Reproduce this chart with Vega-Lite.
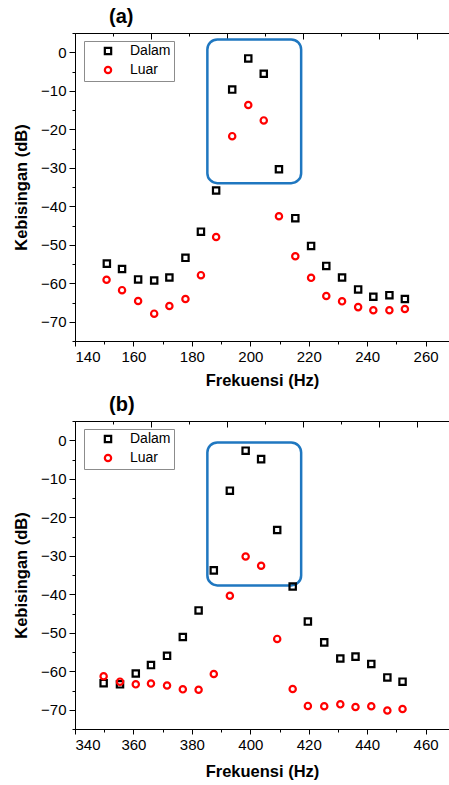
{
  "$schema": "https://vega.github.io/schema/vega-lite/v6.json",
  "padding": {"left": 13, "top": 6, "right": 0, "bottom": 3},
  "spacing": 5,
  "config": {
    "font": "Liberation Sans",
    "view": {"stroke": "black", "strokeWidth": 1},
    "axis": {
      "grid": false,
      "domainColor": "black",
      "tickColor": "black",
      "labelColor": "black",
      "labelFontSize": 15,
      "labelFont": "Liberation Sans",
      "titleFont": "Liberation Sans",
      "titleFontSize": 16.5,
      "titleFontWeight": "bold",
      "titleColor": "black",
      "labelPadding": 3
    },
    "title": {"font": "Liberation Sans", "fontSize": 20, "fontWeight": "bold", "color": "black", "anchor": "start", "frame": "group"},
    "legend": {
      "orient": "none",
      "legendX": 9,
      "legendY": 8,
      "title": null,
      "strokeColor": "#8c8c8c",
      "fillColor": "white",
      "padding": 3,
      "rowPadding": 3,
      "symbolOffset": 14,
      "labelOffset": 15,
      "labelFontSize": 14,
      "labelFont": "Liberation Sans",
      "labelColor": "black",
      "symbolStrokeWidth": 2.2,
      "symbolSize": 40
    }
  },
  "datasets": {
    "a": [
      {"f": 150.9, "db": -54.9, "s": "Dalam"}, {"f": 156.1, "db": -56.3, "s": "Dalam"},
      {"f": 161.6, "db": -59.0, "s": "Dalam"}, {"f": 167.1, "db": -59.3, "s": "Dalam"},
      {"f": 172.3, "db": -58.5, "s": "Dalam"}, {"f": 177.8, "db": -53.4, "s": "Dalam"},
      {"f": 183.1, "db": -46.6, "s": "Dalam"}, {"f": 188.3, "db": -35.9, "s": "Dalam"},
      {"f": 193.8, "db": -9.7, "s": "Dalam"}, {"f": 199.3, "db": -1.6, "s": "Dalam"},
      {"f": 204.6, "db": -5.6, "s": "Dalam"}, {"f": 209.8, "db": -30.4, "s": "Dalam"},
      {"f": 215.4, "db": -43.1, "s": "Dalam"}, {"f": 220.8, "db": -50.3, "s": "Dalam"},
      {"f": 226.0, "db": -55.5, "s": "Dalam"}, {"f": 231.4, "db": -58.5, "s": "Dalam"},
      {"f": 236.9, "db": -61.6, "s": "Dalam"}, {"f": 242.1, "db": -63.5, "s": "Dalam"},
      {"f": 247.6, "db": -63.1, "s": "Dalam"}, {"f": 252.9, "db": -64.1, "s": "Dalam"},
      {"f": 150.8, "db": -59.1, "s": "Luar"}, {"f": 156.1, "db": -61.8, "s": "Luar"},
      {"f": 161.6, "db": -64.6, "s": "Luar"}, {"f": 167.1, "db": -67.9, "s": "Luar"},
      {"f": 172.3, "db": -65.9, "s": "Luar"}, {"f": 177.8, "db": -64.1, "s": "Luar"},
      {"f": 183.1, "db": -57.9, "s": "Luar"}, {"f": 188.3, "db": -48.0, "s": "Luar"},
      {"f": 193.8, "db": -21.8, "s": "Luar"}, {"f": 199.3, "db": -13.7, "s": "Luar"},
      {"f": 204.6, "db": -17.7, "s": "Luar"}, {"f": 209.8, "db": -42.6, "s": "Luar"},
      {"f": 215.4, "db": -53.0, "s": "Luar"}, {"f": 220.8, "db": -58.6, "s": "Luar"},
      {"f": 226.0, "db": -63.3, "s": "Luar"}, {"f": 231.4, "db": -64.7, "s": "Luar"},
      {"f": 236.9, "db": -66.2, "s": "Luar"}, {"f": 242.1, "db": -67.0, "s": "Luar"},
      {"f": 247.6, "db": -67.0, "s": "Luar"}, {"f": 252.9, "db": -66.7, "s": "Luar"}
    ],
    "b": [
      {"f": 349.8, "db": -63.1, "s": "Dalam"}, {"f": 355.4, "db": -63.4, "s": "Dalam"},
      {"f": 360.8, "db": -60.6, "s": "Dalam"}, {"f": 366.0, "db": -58.4, "s": "Dalam"},
      {"f": 371.5, "db": -56.0, "s": "Dalam"}, {"f": 376.9, "db": -51.1, "s": "Dalam"},
      {"f": 382.3, "db": -44.2, "s": "Dalam"}, {"f": 387.5, "db": -33.8, "s": "Dalam"},
      {"f": 393.0, "db": -13.1, "s": "Dalam"}, {"f": 398.4, "db": -2.7, "s": "Dalam"},
      {"f": 403.7, "db": -4.9, "s": "Dalam"}, {"f": 409.2, "db": -23.3, "s": "Dalam"},
      {"f": 414.5, "db": -38.0, "s": "Dalam"}, {"f": 419.7, "db": -47.1, "s": "Dalam"},
      {"f": 425.3, "db": -52.5, "s": "Dalam"}, {"f": 430.8, "db": -56.7, "s": "Dalam"},
      {"f": 436.0, "db": -56.2, "s": "Dalam"}, {"f": 441.4, "db": -58.1, "s": "Dalam"},
      {"f": 446.9, "db": -61.6, "s": "Dalam"}, {"f": 452.1, "db": -62.7, "s": "Dalam"},
      {"f": 349.8, "db": -61.3, "s": "Luar"}, {"f": 355.4, "db": -62.7, "s": "Luar"},
      {"f": 360.8, "db": -63.4, "s": "Luar"}, {"f": 366.0, "db": -63.2, "s": "Luar"},
      {"f": 371.5, "db": -63.7, "s": "Luar"}, {"f": 376.9, "db": -64.7, "s": "Luar"},
      {"f": 382.3, "db": -64.8, "s": "Luar"}, {"f": 387.5, "db": -60.7, "s": "Luar"},
      {"f": 393.0, "db": -40.4, "s": "Luar"}, {"f": 398.4, "db": -30.2, "s": "Luar"},
      {"f": 403.7, "db": -32.6, "s": "Luar"}, {"f": 409.2, "db": -51.6, "s": "Luar"},
      {"f": 414.5, "db": -64.6, "s": "Luar"}, {"f": 419.7, "db": -69.0, "s": "Luar"},
      {"f": 425.3, "db": -69.1, "s": "Luar"}, {"f": 430.8, "db": -68.6, "s": "Luar"},
      {"f": 436.0, "db": -69.3, "s": "Luar"}, {"f": 441.4, "db": -69.1, "s": "Luar"},
      {"f": 446.9, "db": -70.2, "s": "Luar"}, {"f": 452.1, "db": -69.8, "s": "Luar"}
    ],
    "boxA": [{"x1": 185.3, "x2": 217.4, "y1": 3.3, "y2": -34.0}],
    "boxB": [{"x1": 385.3, "x2": 417.4, "y1": -0.6, "y2": -37.7}]
  },
  "vconcat": [
    {
      "width": 374,
      "height": 308,
      "title": {"text": "(a)", "dx": 34, "offset": 6},
      "layer": [
        {
          "data": {"name": "boxA"},
          "mark": {"type": "rect", "cornerRadius": 10, "fill": null, "fillOpacity": 0, "stroke": "#1f77c0", "strokeWidth": 2.5},
          "encoding": {
            "x": {"field": "x1", "type": "quantitative", "scale": {"domain": [140, 268], "nice": false, "zero": false},
                  "axis": {"orient": "top", "title": null, "labels": false, "domain": false,
                           "values": [153.0, 166.1, 178.9, 192.0, 204.9, 218.0, 231.1, 244.0, 257.1],
                           "tickSize": {"condition": {"test": "indexof([166.1, 192, 218, 244, 257.1], datum.value) >= 0", "value": -6}, "value": -3}}},
            "x2": {"field": "x2"},
            "y": {"field": "y1", "type": "quantitative", "scale": {"domain": [-75, 5], "nice": false, "zero": false}, "axis": null},
            "y2": {"field": "y2"}
          }
        },
        {
          "data": {"name": "a"},
          "mark": {"type": "point", "filled": false, "strokeWidth": 2.2, "size": 40, "opacity": 1},
          "encoding": {
            "x": {"field": "f", "type": "quantitative", "scale": {"domain": [140, 268], "nice": false, "zero": false},
                  "axis": {"orient": "bottom", "title": "Frekuensi (Hz)", "titlePadding": 8,
                           "values": [140, 150, 160, 170, 180, 190, 200, 210, 220, 230, 240, 250, 260],
                           "labelExpr": "datum.value % 20 === 0 ? datum.label : ''",
                           "tickSize": {"condition": {"test": "datum.value % 20 === 0", "value": 5}, "value": 3}}},
            "y": {"field": "db", "type": "quantitative", "scale": {"domain": [-75, 5], "nice": false, "zero": false},
                  "axis": {"orient": "left", "title": "Kebisingan (dB)", "titlePadding": 11,
                           "values": [-75, -70, -65, -60, -55, -50, -45, -40, -35, -30, -25, -20, -15, -10, -5, 0, 5],
                           "labelExpr": "datum.value % 10 === 0 ? datum.label : ''",
                           "tickSize": {"condition": {"test": "datum.value % 10 === 0", "value": 6}, "value": 3}}},
            "color": {"field": "s", "type": "nominal", "scale": {"domain": ["Dalam", "Luar"], "range": ["black", "#ff0000"]}},
            "shape": {"field": "s", "type": "nominal", "scale": {"domain": ["Dalam", "Luar"], "range": ["square", "circle"]}}
          }
        }
      ],
      "resolve": {"axis": {"x": "independent", "y": "independent"}}
    },
    {
      "width": 374,
      "height": 308,
      "title": {"text": "(b)", "dx": 34, "offset": 6},
      "layer": [
        {
          "data": {"name": "boxB"},
          "mark": {"type": "rect", "cornerRadius": 10, "fill": null, "fillOpacity": 0, "stroke": "#1f77c0", "strokeWidth": 2.5},
          "encoding": {
            "x": {"field": "x1", "type": "quantitative", "scale": {"domain": [340, 468], "nice": false, "zero": false},
                  "axis": {"orient": "top", "title": null, "labels": false, "domain": false,
                           "values": [353.0, 366.1, 378.9, 392.0, 404.9, 418.0, 431.1, 444.0, 457.1],
                           "tickSize": {"condition": {"test": "indexof([366.1, 392, 418, 444, 457.1], datum.value) >= 0", "value": -6}, "value": -3}}},
            "x2": {"field": "x2"},
            "y": {"field": "y1", "type": "quantitative", "scale": {"domain": [-75, 5], "nice": false, "zero": false}, "axis": null},
            "y2": {"field": "y2"}
          }
        },
        {
          "data": {"name": "b"},
          "mark": {"type": "point", "filled": false, "strokeWidth": 2.2, "size": 40, "opacity": 1},
          "encoding": {
            "x": {"field": "f", "type": "quantitative", "scale": {"domain": [340, 468], "nice": false, "zero": false},
                  "axis": {"orient": "bottom", "title": "Frekuensi (Hz)", "titlePadding": 11,
                           "values": [340, 350, 360, 370, 380, 390, 400, 410, 420, 430, 440, 450, 460],
                           "labelExpr": "datum.value % 20 === 0 ? datum.label : ''",
                           "tickSize": {"condition": {"test": "datum.value % 20 === 0", "value": 5}, "value": 3}}},
            "y": {"field": "db", "type": "quantitative", "scale": {"domain": [-75, 5], "nice": false, "zero": false},
                  "axis": {"orient": "left", "title": "Kebisingan (dB)", "titlePadding": 11,
                           "values": [-75, -70, -65, -60, -55, -50, -45, -40, -35, -30, -25, -20, -15, -10, -5, 0, 5],
                           "labelExpr": "datum.value % 10 === 0 ? datum.label : ''",
                           "tickSize": {"condition": {"test": "datum.value % 10 === 0", "value": 6}, "value": 3}}},
            "color": {"field": "s", "type": "nominal", "scale": {"domain": ["Dalam", "Luar"], "range": ["black", "#ff0000"]}},
            "shape": {"field": "s", "type": "nominal", "scale": {"domain": ["Dalam", "Luar"], "range": ["square", "circle"]}}
          }
        }
      ],
      "resolve": {"axis": {"x": "independent", "y": "independent"}}
    }
  ],
  "resolve": {"scale": {"x": "independent", "color": "independent", "shape": "independent"}, "legend": {"color": "independent", "shape": "independent"}}
}
